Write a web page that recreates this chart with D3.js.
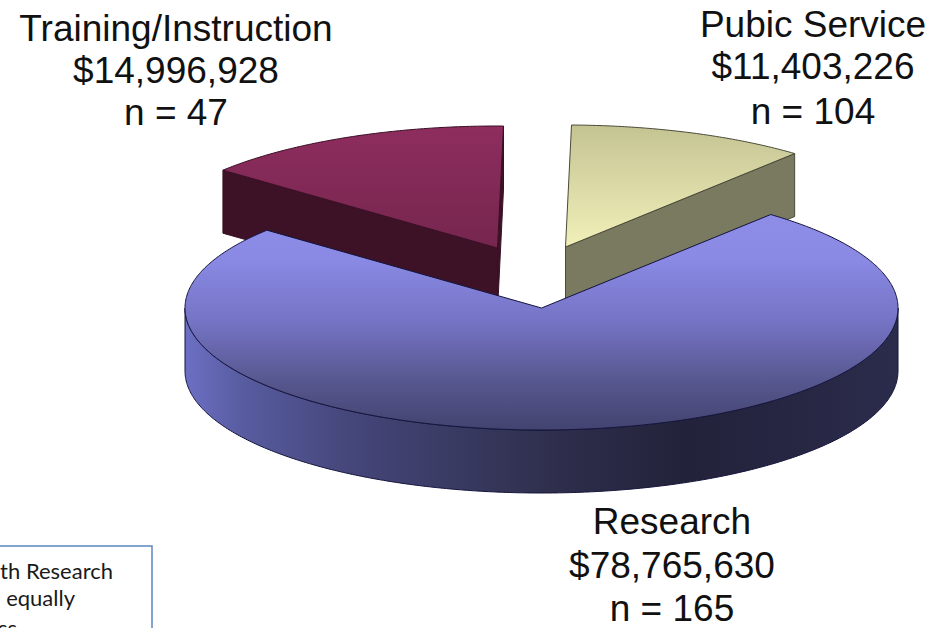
<!DOCTYPE html>
<html>
<head>
<meta charset="utf-8">
<script src="https://cdn.jsdelivr.net/npm/d3@7"></script>
<style>
  html, body { margin: 0; padding: 0; background: #fff; overflow: hidden; }
  svg { display: block; }
  .lab { font-family: "Liberation Sans", Arial, sans-serif; font-size: 37px; fill: #111; text-anchor: middle; }
  .note { font-family: Lato, sans-serif; font-size: 22px; fill: #1a1a1a; }
</style>
</head>
<body>
<script>
const categories = ["Research", "Training/Instruction", "Pubic Service"];
const amounts = [78765630, 14996928, 11403226];
const counts = [165, 47, 104];
const noteLines = ["th Research", "equally", "ss"];

const width = 933, height = 628;
const rx = 356.5, ry = 122, depth = 63;
// centre of the pie, and how far each slice is pulled out of it
const cx = 541.5, cy = 308;
const pull = [[0, 0], [-44, -60], [24, -61]];

const svg = d3.select("body").append("svg")
  .attr("width", width)
  .attr("height", height);

/* gradients, in page coordinates */
const defs = svg.append("defs");
function grad(id, x1, y1, x2, y2, stops) {
  const g = defs.append("linearGradient").attr("id", id)
    .attr("gradientUnits", "userSpaceOnUse")
    .attr("x1", x1).attr("y1", y1).attr("x2", x2).attr("y2", y2);
  stops.forEach(s => g.append("stop").attr("offset", s[0]).attr("stop-color", s[1]));
}
grad("topBlue", 0, 186, 0, 430, [[0, "#908fea"], [0.3, "#8a89e4"], [0.55, "#7574c6"], [0.8, "#57578f"], [1, "#42436f"]]);
grad("wallBlue", 185, 0, 898, 0, [[0, "#6c70c4"], [0.08, "#585ca0"], [0.23, "#45467a"], [0.5, "#30304f"], [0.7, "#22223a"], [1, "#2b2b4c"]]);
grad("topRed", 0, 126, 0, 250, [[0, "#8e2d5e"], [1, "#75264e"]]);
grad("topYellow", 0, 126, 0, 247, [[0, "#c4c493"], [1, "#f1f0ba"]]);

const fills = ["url(#topBlue)", "url(#topRed)", "url(#topYellow)"];
const walls = ["url(#wallBlue)", "#3e1226", "#7a7a60"];
const edges = ["#14143c", "#3a0f26", "#4a4a38"];

/* angles come from the amounts, first slice starts 40 degrees past the top */
const start = 40 * Math.PI / 180;
const pie = d3.pie().sort(null).startAngle(start).endAngle(start + 2 * Math.PI);
const slices = pie(amounts);

const line = d3.line();

// page position of a rim point of slice i
const px = (a, i) => cx + pull[i][0] + Math.sin(a) * rx;
const py = (a, i) => cy + pull[i][1] - Math.cos(a) * ry;
const steps = (a0, a1) => d3.range(a0, a1, 0.01).concat([a1]);

// outer rim wall between two angles (only the front half shows)
function rim(a0, a1, i) {
  const top = steps(a0, a1).map(a => [px(a, i), py(a, i)]);
  const bottom = top.slice().reverse().map(p => [p[0], p[1] + depth]);
  return line(top.concat(bottom)) + "Z";
}
// flat wall going from the apex to the rim at angle a
function cut(a, i) {
  const ax = cx + pull[i][0], ay = cy + pull[i][1];
  return line([[ax, ay], [px(a, i), py(a, i)], [px(a, i), py(a, i) + depth], [ax, ay + depth]]) + "Z";
}
function surface(d, i) {
  const pts = steps(d.startAngle, d.endAngle).map(a => [px(a, i), py(a, i)]);
  return line([[cx + pull[i][0], cy + pull[i][1]]].concat(pts)) + "Z";
}

// the two pulled slices go first, the big one sits in front of them
[1, 2, 0].forEach(i => {
  const d = slices[i];
  const wallPaths = i === 0 ? [rim(Math.PI / 2, 3 * Math.PI / 2, i)]
    : i === 1 ? [cut(d.endAngle, i), cut(d.startAngle, i)]
    : [cut(d.endAngle, i)];

  wallPaths.forEach(p => {
    svg.append("path")
      .attr("d", p)
      .attr("fill", walls[i])
      .attr("stroke", edges[i])
      .attr("stroke-width", 1);
  });

  svg.append("path")
    .attr("d", surface(d, i))
    .attr("fill", fills[i])
    .attr("stroke", edges[i])
    .attr("stroke-width", 1)
    .attr("stroke-linejoin", "round");
});

/* labels */
const labelPos = [[672, [534, 578, 621]], [176, [41, 83, 125]], [813, [37, 79, 124]]];
categories.forEach((c, i) => {
  const rows = [c, d3.format("$,")(amounts[i]), "n = " + counts[i]];
  rows.forEach((t, j) => {
    svg.append("text").attr("class", "lab")
      .attr("x", labelPos[i][0])
      .attr("y", labelPos[i][1][j])
      .text(t);
  });
});

/* text box cut off by the page edge */
svg.append("rect")
  .attr("x", -3).attr("y", 546)
  .attr("width", 155).attr("height", 120)
  .attr("fill", "#fff")
  .attr("stroke", "#5b87c0")
  .attr("stroke-width", 1.5);
svg.append("text").attr("class", "note").attr("x", 113).attr("y", 579).attr("text-anchor", "end").text(noteLines[0]);
svg.append("text").attr("class", "note").attr("x", 75).attr("y", 606).attr("text-anchor", "end").text(noteLines[1]);
svg.append("text").attr("class", "note").attr("x", 17).attr("y", 636).attr("text-anchor", "end").text(noteLines[2]);
</script>
</body>
</html>
